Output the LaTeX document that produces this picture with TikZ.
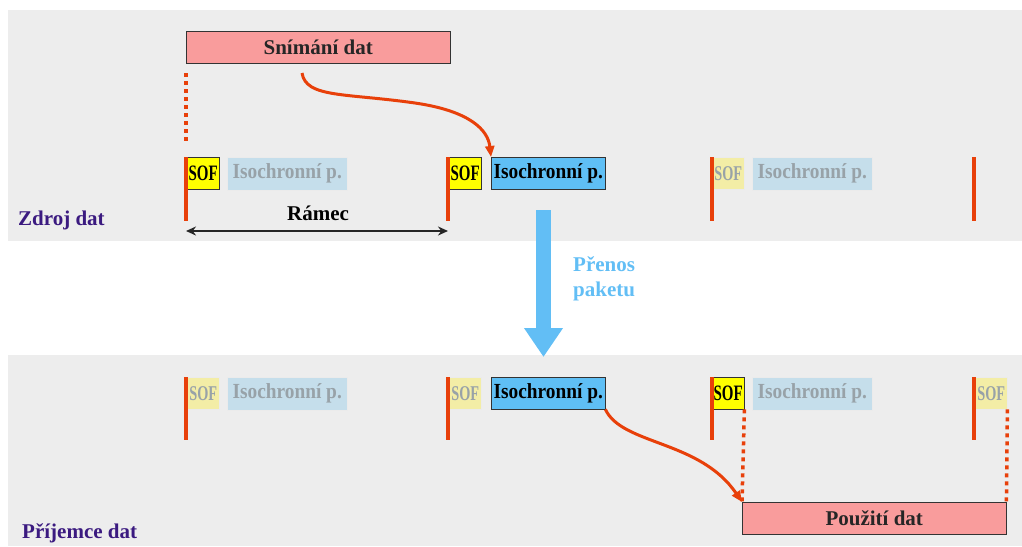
\documentclass[tikz,border=0pt]{standalone}
\usepackage{fontspec}
\setmainfont{Liberation Serif}
\newfontfamily\sofnarrow[FakeStretch=0.68]{Liberation Serif}
\newfontfamily\isonarrow[FakeStretch=0.9]{Liberation Serif}
\usetikzlibrary{arrows.meta}
\definecolor{bandgray}{HTML}{EDEDED}
\definecolor{salmon}{HTML}{F99C9C}
\definecolor{sofyellow}{HTML}{FFFF00}
\definecolor{sofpale}{HTML}{F3EDA6}
\definecolor{isoblue}{HTML}{5FBFF5}
\definecolor{isopale}{HTML}{C5DEEB}
\definecolor{fadetext}{HTML}{98A2A8}
\definecolor{frameorange}{HTML}{E8400A}
\definecolor{labelpurple}{HTML}{3B1A80}
\definecolor{movearrow}{HTML}{62BEF5}

\begin{document}
\begin{tikzpicture}[x=1pt,y=-1pt,
    every node/.style={font=\fontsize{21}{25}\selectfont\bfseries,inner sep=0pt},
    task/.style={draw=black!80,fill=salmon,minimum width=264,minimum height=32,anchor=north west,text=black!85},
    sof/.style={draw=black!80,fill=sofyellow,minimum width=32,minimum height=32,anchor=north west,font=\fontsize{22}{24}\selectfont\sofnarrow\bfseries},
    sofpale/.style={draw=black!8,fill=sofpale,text=fadetext,minimum width=32,minimum height=32,anchor=north west,font=\fontsize{21}{24}\selectfont\sofnarrow\bfseries},
    iso/.style={draw=black!80,fill=isoblue,minimum width=114,minimum height=32,anchor=north west,font=\fontsize{21.5}{25}\selectfont\isonarrow\bfseries},
    isopale/.style={draw=black!8,fill=isopale,text=fadetext,minimum width=120,minimum height=33,anchor=north west,font=\fontsize{21.5}{25}\selectfont\isonarrow\bfseries},
    bar/.style={frameorange,line width=4},
    dots/.style={frameorange,line width=3.5,dash pattern=on 4 off 4},
    flow/.style={frameorange,line width=3,-{Triangle[length=11,width=9]}},
    side/.style={text=labelpurple,anchor=base west}]
  \useasboundingbox (0,0) rectangle (1022,546);
  \fill[bandgray] (8,10) rectangle (1022,241);
  \fill[bandgray] (8,355) rectangle (1022,546);

  % zdroj
  \node[task] (snimani) at (186,31) {Snímání dat};
  \node[sof] (sofA1) at (187,157) {SOF};
  \node[isopale] (isoA1) at (227,157) {Isochronní p.};
  \node[sof] (sofA2) at (449,157) {SOF};
  \node[iso] (isoA2) at (491,157) {Isochronní p.};
  \node[sofpale] (sofA3) at (712,157) {SOF};
  \node[isopale] (isoA3) at (752,157) {Isochronní p.};
  \draw[bar] (186,157) -- (186,221);
  \draw[bar] (448,157) -- (448,221);
  \draw[bar] (712,157) -- (712,221);
  \draw[bar] (974,157) -- (974,221);
  \draw[dots] (186,73) -- (186,143);
  \node (ramec) at (318,213) {Rámec};
  \draw[black!85,line width=2,{Stealth[length=10,width=9]}-{Stealth[length=10,width=9]}] (186,231) -- (448,231);
  \node[side] (zdroj) at (18,225) {Zdroj dat};
  \coordinate (scan) at (302,73);
  \draw[flow] (scan) .. controls (306,98) and (345,93) .. (415,103) .. controls (470,111) and (488,130) .. (isoA2.north west);

  % prenos
  \draw[movearrow,line width=15,-{Triangle[length=29,width=37]}] (543.5,210) -- (543.5,357);
  \node[text=movearrow,align=left,anchor=north west] (prenos) at (573,256) {Přenos\\paketu};

  % prijemce
  \node[sofpale] (sofB1) at (187,377) {SOF};
  \node[isopale] (isoB1) at (227,377) {Isochronní p.};
  \node[sofpale] (sofB2) at (449,377) {SOF};
  \node[iso] (isoB2) at (491,377) {Isochronní p.};
  \node[sof] (sofB3) at (712,377) {SOF};
  \node[isopale] (isoB3) at (752,377) {Isochronní p.};
  \node[sofpale] (sofB4) at (975,377) {SOF};
  \draw[bar] (186,377) -- (186,440);
  \draw[bar] (448,377) -- (448,440);
  \draw[bar] (712,377) -- (712,440);
  \draw[bar] (974,377) -- (974,440);
  \node[task] (pouziti) at (742,502) {Použití dat};
  \draw[dots] (sofB3.south east) -- (pouziti.north west);
  \draw[dots] (sofB4.south east) -- (pouziti.north east);
  \draw[flow] (isoB2.south east) .. controls (622,445) and (700,440) .. (pouziti.north west);
  \node[side] (prijemce) at (22,538) {Příjemce dat};
\end{tikzpicture}
\end{document}
